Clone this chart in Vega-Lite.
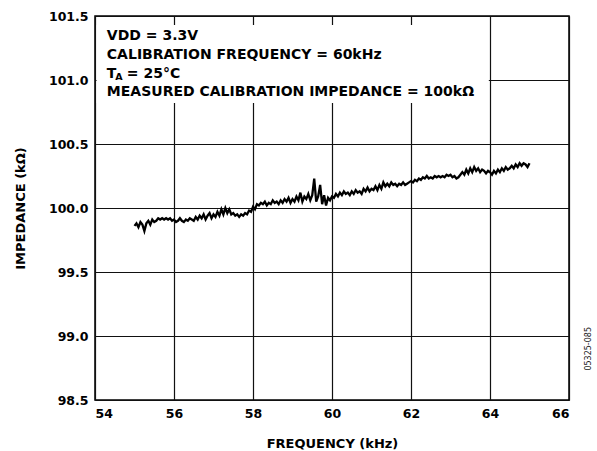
{
  "$schema": "https://vega.github.io/schema/vega-lite/v6.json",
  "width": 474,
  "height": 384,
  "autosize": {"type": "none"},
  "padding": {"left": 95, "top": 16, "right": 28, "bottom": 51},
  "background": "white",
  "config": {
    "font": "DejaVu Sans",
    "view": {"stroke": "black", "strokeWidth": 1.5},
    "axis": {
      "domain": false, "ticks": false, "grid": true, "gridColor": "#111", "gridWidth": 1.2, "gridOpacity": 1,
      "labelFont": "DejaVu Sans", "labelFontWeight": "bold", "labelFontSize": 12.5, "labelColor": "black",
      "titleFont": "DejaVu Sans", "titleFontWeight": "bold", "titleFontSize": 13, "titleColor": "black"
    }
  },
  "layer": [
    {
      "data": {"values": [{"f":55.00,"z":99.86},{"f":55.05,"z":99.88},{"f":55.10,"z":99.85},{"f":55.15,"z":99.89},{"f":55.20,"z":99.87},{"f":55.25,"z":99.82},{"f":55.30,"z":99.88},{"f":55.35,"z":99.90},{"f":55.40,"z":99.87},{"f":55.45,"z":99.91},{"f":55.50,"z":99.89},{"f":55.55,"z":99.90},{"f":55.60,"z":99.92},{"f":55.65,"z":99.91},{"f":55.70,"z":99.92},{"f":55.75,"z":99.91},{"f":55.80,"z":99.92},{"f":55.85,"z":99.91},{"f":55.90,"z":99.92},{"f":55.95,"z":99.90},{"f":56.00,"z":99.91},{"f":56.05,"z":99.89},{"f":56.10,"z":99.90},{"f":56.15,"z":99.92},{"f":56.20,"z":99.90},{"f":56.25,"z":99.89},{"f":56.30,"z":99.91},{"f":56.35,"z":99.90},{"f":56.40,"z":99.92},{"f":56.45,"z":99.91},{"f":56.50,"z":99.90},{"f":56.55,"z":99.93},{"f":56.60,"z":99.91},{"f":56.65,"z":99.94},{"f":56.70,"z":99.92},{"f":56.75,"z":99.95},{"f":56.80,"z":99.91},{"f":56.85,"z":99.94},{"f":56.90,"z":99.96},{"f":56.95,"z":99.92},{"f":57.00,"z":99.95},{"f":57.05,"z":99.93},{"f":57.10,"z":99.97},{"f":57.15,"z":99.94},{"f":57.20,"z":99.99},{"f":57.25,"z":99.95},{"f":57.30,"z":100.00},{"f":57.35,"z":99.96},{"f":57.40,"z":99.99},{"f":57.45,"z":99.95},{"f":57.50,"z":99.96},{"f":57.55,"z":99.94},{"f":57.60,"z":99.95},{"f":57.65,"z":99.93},{"f":57.70,"z":99.95},{"f":57.75,"z":99.94},{"f":57.80,"z":99.96},{"f":57.85,"z":99.95},{"f":57.90,"z":99.98},{"f":57.95,"z":99.97},{"f":58.00,"z":100.01},{"f":58.05,"z":99.99},{"f":58.10,"z":100.03},{"f":58.15,"z":100.02},{"f":58.20,"z":100.04},{"f":58.25,"z":100.03},{"f":58.30,"z":100.05},{"f":58.35,"z":100.02},{"f":58.40,"z":100.04},{"f":58.45,"z":100.03},{"f":58.50,"z":100.06},{"f":58.55,"z":100.04},{"f":58.60,"z":100.05},{"f":58.65,"z":100.03},{"f":58.70,"z":100.06},{"f":58.75,"z":100.04},{"f":58.80,"z":100.07},{"f":58.85,"z":100.05},{"f":58.90,"z":100.08},{"f":58.95,"z":100.04},{"f":59.00,"z":100.07},{"f":59.05,"z":100.05},{"f":59.10,"z":100.09},{"f":59.15,"z":100.06},{"f":59.20,"z":100.12},{"f":59.25,"z":100.05},{"f":59.30,"z":100.09},{"f":59.35,"z":100.07},{"f":59.40,"z":100.11},{"f":59.45,"z":100.06},{"f":59.50,"z":100.10},{"f":59.55,"z":100.23},{"f":59.60,"z":100.05},{"f":59.65,"z":100.09},{"f":59.70,"z":100.18},{"f":59.75,"z":100.03},{"f":59.80,"z":100.10},{"f":59.85,"z":100.02},{"f":59.90,"z":100.08},{"f":59.95,"z":100.06},{"f":60.00,"z":100.09},{"f":60.05,"z":100.08},{"f":60.10,"z":100.11},{"f":60.15,"z":100.09},{"f":60.20,"z":100.12},{"f":60.25,"z":100.10},{"f":60.30,"z":100.13},{"f":60.35,"z":100.11},{"f":60.40,"z":100.12},{"f":60.45,"z":100.10},{"f":60.50,"z":100.13},{"f":60.55,"z":100.11},{"f":60.60,"z":100.14},{"f":60.65,"z":100.12},{"f":60.70,"z":100.13},{"f":60.75,"z":100.11},{"f":60.80,"z":100.15},{"f":60.85,"z":100.13},{"f":60.90,"z":100.16},{"f":60.95,"z":100.13},{"f":61.00,"z":100.15},{"f":61.05,"z":100.14},{"f":61.10,"z":100.17},{"f":61.15,"z":100.14},{"f":61.20,"z":100.18},{"f":61.25,"z":100.15},{"f":61.30,"z":100.20},{"f":61.35,"z":100.17},{"f":61.40,"z":100.19},{"f":61.45,"z":100.17},{"f":61.50,"z":100.20},{"f":61.55,"z":100.18},{"f":61.60,"z":100.19},{"f":61.65,"z":100.17},{"f":61.70,"z":100.19},{"f":61.75,"z":100.18},{"f":61.80,"z":100.20},{"f":61.85,"z":100.18},{"f":61.90,"z":100.19},{"f":61.95,"z":100.20},{"f":62.00,"z":100.21},{"f":62.05,"z":100.20},{"f":62.10,"z":100.22},{"f":62.15,"z":100.21},{"f":62.20,"z":100.23},{"f":62.25,"z":100.22},{"f":62.30,"z":100.24},{"f":62.35,"z":100.23},{"f":62.40,"z":100.25},{"f":62.45,"z":100.23},{"f":62.50,"z":100.24},{"f":62.55,"z":100.23},{"f":62.60,"z":100.25},{"f":62.65,"z":100.24},{"f":62.70,"z":100.25},{"f":62.75,"z":100.24},{"f":62.80,"z":100.25},{"f":62.85,"z":100.24},{"f":62.90,"z":100.26},{"f":62.95,"z":100.25},{"f":63.00,"z":100.26},{"f":63.05,"z":100.24},{"f":63.10,"z":100.25},{"f":63.15,"z":100.23},{"f":63.20,"z":100.24},{"f":63.25,"z":100.26},{"f":63.30,"z":100.28},{"f":63.35,"z":100.26},{"f":63.40,"z":100.30},{"f":63.45,"z":100.27},{"f":63.50,"z":100.31},{"f":63.55,"z":100.28},{"f":63.60,"z":100.32},{"f":63.65,"z":100.29},{"f":63.70,"z":100.31},{"f":63.75,"z":100.28},{"f":63.80,"z":100.30},{"f":63.85,"z":100.29},{"f":63.90,"z":100.27},{"f":63.95,"z":100.29},{"f":64.00,"z":100.28},{"f":64.05,"z":100.26},{"f":64.10,"z":100.29},{"f":64.15,"z":100.27},{"f":64.20,"z":100.30},{"f":64.25,"z":100.28},{"f":64.30,"z":100.31},{"f":64.35,"z":100.29},{"f":64.40,"z":100.32},{"f":64.45,"z":100.30},{"f":64.50,"z":100.31},{"f":64.55,"z":100.33},{"f":64.60,"z":100.31},{"f":64.65,"z":100.34},{"f":64.70,"z":100.32},{"f":64.75,"z":100.35},{"f":64.80,"z":100.33},{"f":64.85,"z":100.35},{"f":64.90,"z":100.34},{"f":64.95,"z":100.32},{"f":65.00,"z":100.35}]},
      "mark": {"type": "line", "color": "black", "strokeWidth": 2.3, "strokeJoin": "miter"},
      "encoding": {
        "x": {"field": "f", "type": "quantitative", "scale": {"domain": [54, 66], "nice": false, "zero": false},
              "axis": {"values": [54, 56, 58, 60, 62, 64, 66], "format": "d", "labelPadding": 7, "title": "FREQUENCY (kHz)", "titleX": 237, "titleY": 43, "titleBaseline": "middle"}},
        "y": {"field": "z", "type": "quantitative", "scale": {"domain": [98.5, 101.5], "nice": false, "zero": false},
              "axis": {"values": [98.5, 99.0, 99.5, 100.0, 100.5, 101.0, 101.5], "format": ".1f", "labelPadding": 7, "title": "IMPEDANCE (kΩ)", "titleX": -75, "titleY": 192, "titleBaseline": "middle", "titleAngle": -90}}
      }
    },
    {
      "data": {"values": [{}]},
      "mark": {"type": "rect", "fill": "white", "stroke": null},
      "encoding": {"x": {"datum": 54.04}, "x2": {"datum": 63.97}, "y": {"datum": 101.43}, "y2": {"datum": 100.82}}
    },
    {
      "data": {"values": [{}]},
      "mark": {"type": "text", "text": "VDD = 3.3V", "font": "DejaVu Sans", "fontWeight": "bold", "fontSize": 14, "align": "left", "baseline": "middle", "color": "black"},
      "encoding": {"x": {"datum": 54.3}, "y": {"datum": 101.34}}
    },
    {
      "data": {"values": [{}]},
      "mark": {"type": "text", "text": "CALIBRATION FREQUENCY = 60kHz", "font": "DejaVu Sans", "fontWeight": "bold", "fontSize": 14, "align": "left", "baseline": "middle", "color": "black"},
      "encoding": {"x": {"datum": 54.3}, "y": {"datum": 101.195}}
    },
    {
      "data": {"values": [{}]},
      "mark": {"type": "text", "text": "T", "font": "DejaVu Sans", "fontWeight": "bold", "fontSize": 14, "align": "left", "baseline": "middle", "color": "black"},
      "encoding": {"x": {"datum": 54.3}, "y": {"datum": 101.045}}
    },
    {
      "data": {"values": [{}]},
      "mark": {"type": "text", "text": "A", "font": "DejaVu Sans", "fontWeight": "bold", "fontSize": 9.5, "align": "left", "baseline": "middle", "color": "black", "dx": 8.5, "dy": 3},
      "encoding": {"x": {"datum": 54.3}, "y": {"datum": 101.045}}
    },
    {
      "data": {"values": [{}]},
      "mark": {"type": "text", "text": "= 25°C", "font": "DejaVu Sans", "fontWeight": "bold", "fontSize": 14, "align": "left", "baseline": "middle", "color": "black", "dx": 20},
      "encoding": {"x": {"datum": 54.3}, "y": {"datum": 101.045}}
    },
    {
      "data": {"values": [{}]},
      "mark": {"type": "text", "text": "MEASURED CALIBRATION IMPEDANCE = 100kΩ", "font": "DejaVu Sans", "fontWeight": "bold", "fontSize": 14, "align": "left", "baseline": "middle", "color": "black"},
      "encoding": {"x": {"datum": 54.3}, "y": {"datum": 100.905}}
    },
    {
      "data": {"values": [{}]},
      "mark": {"type": "text", "text": "05325-085", "font": "DejaVu Sans", "fontSize": 8, "angle": 270, "align": "center", "baseline": "middle", "color": "#222"},
      "encoding": {"x": {"datum": 66.5}, "y": {"datum": 98.9}}
    }
  ]
}
